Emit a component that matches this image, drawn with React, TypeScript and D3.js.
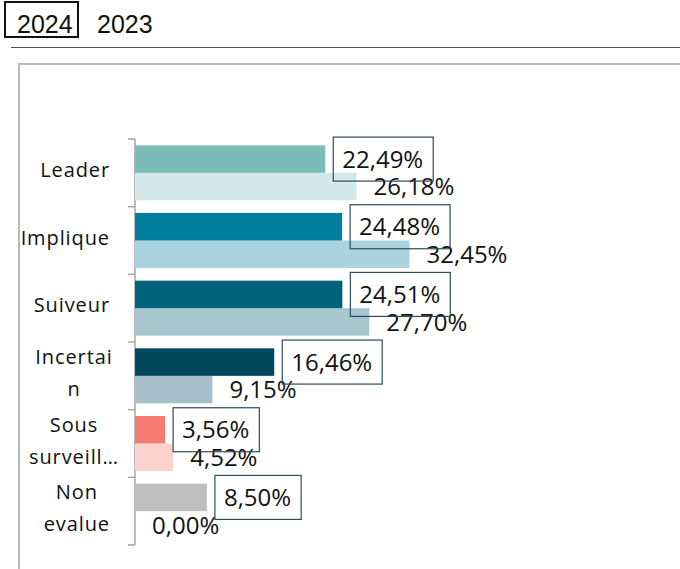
import { useEffect, useRef } from "react";
import * as d3 from "d3";

const WIDTH = 680;
const HEIGHT = 569;

const categories = ["Leader", "Implique", "Suiveur", "Incertain", "Sous surveillance", "Non evalue"];
const categoryLines = [["Leader"], ["Implique"], ["Suiveur"], ["Incertai", "n"], ["Sous", "surveill…"], ["Non", "evalue"]];
const series = ["2024", "2023"];
const values2024 = [22.49, 24.48, 24.51, 16.46, 3.56, 8.5];
const values2023 = [26.18, 32.45, 27.7, 9.15, 4.52, 0.0];
const colors2024 = ["#7bbcb8", "#007e9e", "#00627b", "#02475b", "#f47b70", "#bfbfbf"];
const colors2023 = ["#d4e8e8", "#a9d3df", "#a7c7cf", "#a5c0c8", "#fbd2ce", "#e6e6e6"];

const fmt = (v: number) => v.toFixed(2).replace(".", ",") + "%";

const LABEL_FONT = "'Open Sans', sans-serif";

export default function App() {
  const ref = useRef<SVGGElement>(null);

  useEffect(() => {
    const g = d3.select(ref.current);
    g.selectAll("*").remove();

    const x = d3.scaleLinear().domain([0, 40]).range([135, 135 + 338.4]);
    const y = d3.scaleBand().domain(categories).range([139, 545]).paddingInner(0.187).paddingOuter(0.0935);
    const yInner = d3.scaleBand().domain(series).range([0, y.bandwidth()]);

    // axis line + ticks at category boundaries
    const step = y.step();
    g.append("line")
      .attr("x1", 135).attr("x2", 135).attr("y1", 139).attr("y2", 545)
      .attr("stroke", "#a6a6a6").attr("stroke-width", 1.5);
    d3.range(categories.length + 1).forEach((i) => {
      const ty = 139 + i * step;
      g.append("line")
        .attr("x1", 128).attr("x2", 135).attr("y1", ty).attr("y2", ty)
        .attr("stroke", "#a6a6a6").attr("stroke-width", 1.5);
    });

    // bars
    const rows = categories.map((c, i) => ({ c, i }));
    rows.forEach(({ c, i }) => {
      const y0 = y(c)!;
      [values2023, values2024].forEach((vals, k) => {
        const s = k === 0 ? "2023" : "2024";
        const v = vals[i];
        if (v <= 0) return;
        g.append("rect")
          .attr("x", x(0))
          .attr("y", y0 + yInner(s)!)
          .attr("width", x(v) - x(0))
          .attr("height", yInner.bandwidth())
          .attr("fill", k === 0 ? colors2023[i] : colors2024[i]);
      });
    });

    // value labels
    rows.forEach(({ c, i }) => {
      const y0 = y(c)!;
      const cy23 = y0 + yInner("2023")! + yInner.bandwidth() / 2;
      g.append("text")
        .attr("x", x(values2023[i]) + 17)
        .attr("y", cy23)
        .attr("dy", "0.36em")
        .attr("font-family", LABEL_FONT)
        .attr("font-size", 24)
        .attr("fill", "#111")
        .text(fmt(values2023[i]));

      const cy24 = y0 + yInner("2024")! + yInner.bandwidth() / 2;
      const t = g.append("text")
        .attr("x", x(values2024[i]) + 17)
        .attr("y", cy24)
        .attr("dy", "0.36em")
        .attr("font-family", LABEL_FONT)
        .attr("font-size", 24)
        .attr("fill", "#111")
        .text(fmt(values2024[i]));
      const w = (t.node() as SVGTextElement).getComputedTextLength();
      g.insert("rect", () => t.node())
        .attr("x", x(values2024[i]) + 8)
        .attr("y", cy24 - 22)
        .attr("width", w + 19)
        .attr("height", 44)
        .attr("fill", "none")
        .attr("stroke", "#2f4b5a")
        .attr("stroke-width", 1.2);
    });

    // category labels
    rows.forEach(({ c, i }) => {
      const lines = categoryLines[i];
      const cy = y(c)! + y.bandwidth() / 2 - 3;
      const tg = g.append("g");
      const texts = lines.map((ln, j) =>
        tg.append("text")
          .attr("y", cy + (j - (lines.length - 1) / 2) * 32)
          .attr("dy", "0.36em")
          .attr("font-family", LABEL_FONT)
          .attr("font-size", 20)
          .attr("letter-spacing", 0.9)
          .attr("fill", "#111")
          .attr("text-anchor", "middle")
          .text(ln)
      );
      const maxW = d3.max(texts, (t) => (t.node() as SVGTextElement).getComputedTextLength()) || 0;
      const cx = 110 - Math.min(maxW, 72) / 2;
      texts.forEach((t) => t.attr("x", lines.length === 1 ? 110 - maxW / 2 : cx));
    });
  }, []);

  return (
    <svg width={WIDTH} height={HEIGHT} style={{ position: "absolute", left: 0, top: 0, background: "#fff" }}>
      <rect x={5} y={2} width={73} height={35} fill="none" stroke="#111" strokeWidth={2} />
      <text x={17} y={33} fontFamily="'Liberation Sans', Arial, sans-serif" fontSize={25} fill="#111">{series[0]}</text>
      <text x={97} y={33} fontFamily="'Liberation Sans', Arial, sans-serif" fontSize={25} fill="#111">{series[1]}</text>
      <line x1={11} x2={WIDTH} y1={47.5} y2={47.5} stroke="#555" strokeWidth={1.2} />
      <rect x={19} y={64} width={WIDTH} height={HEIGHT} fill="none" stroke="#b8b8b8" strokeWidth={2} />
      <g ref={ref} />
    </svg>
  );
}
